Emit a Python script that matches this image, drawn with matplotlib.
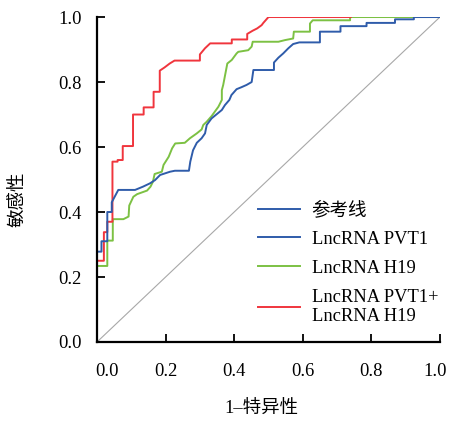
import matplotlib
matplotlib.use("Agg")
import matplotlib.pyplot as plt
import matplotlib.transforms as mtransforms
from matplotlib.lines import Line2D

plt.rcParams["font.family"] = ["Liberation Serif", "Noto Sans CJK SC"]

# ROC vertices (x = 1-specificity, y = sensitivity)
pvt1_x = [0.0, 0.0, 0.013, 0.013, 0.03, 0.03, 0.043, 0.043, 0.062, 0.111, 0.134,
          0.154, 0.169, 0.184, 0.213, 0.227, 0.268, 0.272, 0.28, 0.291, 0.305,
          0.315, 0.32, 0.334, 0.364, 0.373, 0.386, 0.392, 0.407, 0.421, 0.436,
          0.451, 0.456, 0.516, 0.516, 0.529, 0.543, 0.558, 0.572, 0.59, 0.65,
          0.65, 0.71, 0.71, 0.786, 0.786, 0.869, 0.869, 0.924, 0.924, 1.0]
pvt1_y = [0.0, 0.278, 0.278, 0.31, 0.31, 0.40, 0.40, 0.43, 0.468, 0.468, 0.478,
          0.488, 0.498, 0.514, 0.524, 0.527, 0.527, 0.555, 0.59, 0.613, 0.627,
          0.642, 0.668, 0.688, 0.714, 0.729, 0.745, 0.76, 0.778, 0.784, 0.791,
          0.80, 0.837, 0.837, 0.86, 0.875, 0.888, 0.904, 0.917, 0.922, 0.922,
          0.955, 0.955, 0.972, 0.972, 0.982, 0.982, 0.993, 0.993, 1.0, 1.0]

h19_x = [0.0, 0.03, 0.03, 0.046, 0.046, 0.077, 0.092, 0.094, 0.106, 0.117, 0.146,
         0.156, 0.163, 0.168, 0.189, 0.194, 0.209, 0.219, 0.228, 0.256, 0.271,
         0.291, 0.305, 0.31, 0.32, 0.334, 0.354, 0.364, 0.364, 0.368, 0.38,
         0.393, 0.407, 0.412, 0.441, 0.451, 0.454, 0.529, 0.548, 0.572, 0.574,
         0.621, 0.621, 0.629, 0.738, 0.738, 1.0]
h19_y = [0.234, 0.234, 0.312, 0.312, 0.378, 0.378, 0.386, 0.42, 0.447, 0.455, 0.466,
         0.478, 0.493, 0.517, 0.524, 0.545, 0.57, 0.596, 0.611, 0.613, 0.627,
         0.642, 0.654, 0.668, 0.678, 0.695, 0.724, 0.745, 0.775, 0.791, 0.857,
         0.868, 0.888, 0.893, 0.898, 0.909, 0.924, 0.924, 0.929, 0.934, 0.955,
         0.955, 0.98, 0.99, 0.99, 1.0, 1.0]

combo_x = [0.0, 0.02, 0.02, 0.03, 0.03, 0.045, 0.045, 0.06, 0.06, 0.075, 0.075,
           0.105, 0.105, 0.136, 0.136, 0.165, 0.165, 0.183, 0.183, 0.197, 0.212,
           0.226, 0.3, 0.3, 0.315, 0.33, 0.393, 0.393, 0.438, 0.438, 0.454,
           0.467, 0.48, 0.485, 0.5, 0.74]
combo_y = [0.25, 0.25, 0.338, 0.338, 0.37, 0.37, 0.555, 0.555, 0.56, 0.56, 0.603,
           0.603, 0.70, 0.70, 0.722, 0.722, 0.77, 0.77, 0.835, 0.845, 0.857,
           0.866, 0.866, 0.885, 0.904, 0.919, 0.919, 0.931, 0.931, 0.948, 0.958,
           0.965, 0.975, 0.982, 1.0, 1.0]

ticks = [0.0, 0.2, 0.4, 0.6, 0.8, 1.0]
labels = ["参考线", "LncRNA PVT1", "LncRNA H19", "LncRNA PVT1+\nLncRNA H19"]

blue = "#2f5caa"
green = "#7cc143"
red = "#f0353d"

fig = plt.figure(figsize=(4.5, 4.22), dpi=100)
ax = fig.add_axes([0.2156, 0.1896, 0.762, 0.770])

ax.plot([0, 1], [0, 1], color="#a8a8a8", lw=0.8)
ax.plot(h19_x, h19_y, color=green, lw=1.4)
ax.plot(combo_x, combo_y, color=red, lw=1.4)
ax.plot(pvt1_x, pvt1_y, color=blue, lw=1.4)

ax.set_xlim(0, 1)
ax.set_ylim(0, 1)
ax.set_xticks(ticks)
ax.set_yticks(ticks)
ax.set_xticklabels(["%.1f" % t for t in ticks])
ax.set_yticklabels(["%.1f" % t for t in ticks])
ax.tick_params(direction="in", length=6, width=1.3, labelsize=13.3)
ax.tick_params(axis="x", pad=15)
ax.tick_params(axis="y", pad=11)
for s in ["top", "right"]:
    ax.spines[s].set_visible(False)
for s in ["left", "bottom"]:
    ax.spines[s].set_linewidth(1.6)

# nudge the end x labels like the original (first right, last left)
xl = ax.get_xticklabels()
xl[0].set_transform(xl[0].get_transform() + mtransforms.ScaledTranslation(0.10, 0, fig.dpi_scale_trans))
xl[-1].set_transform(xl[-1].get_transform() + mtransforms.ScaledTranslation(-0.05, 0, fig.dpi_scale_trans))

handles = [Line2D([], [], color=blue, lw=1.4),
           Line2D([], [], color=blue, lw=1.4),
           Line2D([], [], color=green, lw=1.4),
           Line2D([], [], color=red, lw=1.4)]
ax.legend(handles, labels, loc="upper left", bbox_to_anchor=(0.448, 0.456),
          frameon=False, fontsize=13.3, handlelength=2.25, handletextpad=0.65,
          labelspacing=0.64, borderaxespad=0)

fig.text(0.582, 0.012, "1–特异性", ha="center", va="bottom", fontsize=13.3)
fig.text(0.042, 0.528, "敏感性", ha="center", va="center", rotation=90, fontsize=13.3)

fig.savefig("out.png", dpi=100)
